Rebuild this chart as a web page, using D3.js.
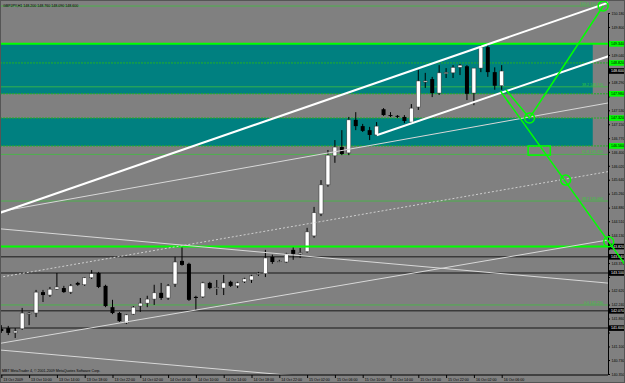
<!DOCTYPE html>
<html lang="en">
<head>
<meta charset="utf-8">
<title>GBPJPY,H1</title>
<style>
    body { margin: 0; background: #808080; }
    svg { display: block; font-family: "Liberation Sans", Arial, sans-serif; }
</style>
</head>
<body>
<svg id="chart" width="625" height="383"></svg>
<script src="https://d3js.org/d3.v7.min.js"></script>
<script>
// GBPJPY H1 bars, 13 Oct 2009 06:00 .. 16 Oct 2009 06:00
var opens  = [141.58,141.60,141.47,141.58,141.99,142.01,142.58,142.50,142.66,142.69,142.58,142.83,142.78,142.97,143.10,142.75,142.17,142.01,141.74,141.98,
              142.20,142.28,142.39,142.56,142.42,142.80,143.43,143.35,142.45,142.45,142.83,142.69,142.69,142.86,142.75,142.86,142.91,143.08,143.08,143.54,
              143.40,143.40,143.73,143.62,143.68,144.11,144.71,145.50,146.29,146.53,146.37,147.27,147.10,146.99,146.86,147.56,147.40,147.38,147.35,147.21,
              147.62,148.30,148.38,148.00,148.55,148.55,148.70,148.73,148.00,148.68,149.25,148.57,148.20];
var highs  = [141.68,141.66,141.60,142.15,142.04,142.64,142.64,142.72,143.10,142.75,142.80,142.86,142.99,143.18,143.13,142.78,142.37,142.04,141.98,142.20,
              142.42,142.48,142.78,142.83,142.80,143.54,143.81,143.38,142.48,142.86,142.86,142.91,143.05,142.89,142.86,142.97,143.05,143.13,143.73,143.60,
              143.46,143.65,143.81,143.78,144.33,144.90,145.63,146.45,146.72,146.99,147.35,147.48,147.16,147.08,147.21,147.59,147.48,147.40,147.40,147.70,
              148.63,148.55,148.44,148.76,148.68,148.76,148.79,148.76,148.68,149.31,149.31,148.70,148.76];
var lows   = [141.47,141.41,141.33,141.55,141.68,141.90,142.31,142.45,142.64,142.56,142.53,142.75,142.75,142.94,142.69,142.17,141.98,141.77,141.71,141.96,
              142.04,142.17,142.23,142.37,142.37,142.72,143.30,142.34,142.09,142.42,142.66,142.50,142.50,142.72,142.69,142.83,142.83,143.02,142.99,143.35,
              143.38,143.38,143.46,143.51,143.65,144.06,144.65,145.45,146.10,146.31,146.31,146.99,146.94,146.72,146.83,147.38,147.35,147.32,147.18,147.16,
              147.54,148.14,147.89,147.95,148.41,148.41,148.49,147.81,147.67,148.57,148.44,148.09,148.09];
var closes = [141.52,141.47,141.52,142.01,142.01,142.58,142.50,142.66,142.72,142.58,142.75,142.78,142.97,143.08,142.72,142.20,142.01,141.79,141.96,142.17,
              142.28,142.39,142.56,142.42,142.75,143.40,143.32,142.37,142.42,142.83,142.69,142.70,142.83,142.75,142.83,142.94,143.02,143.09,143.51,143.40,
              143.41,143.62,143.62,143.65,144.22,144.74,145.50,146.31,146.53,146.34,147.27,147.10,146.97,146.86,147.10,147.40,147.39,147.37,147.24,147.59,
              148.33,148.33,148.00,148.55,148.56,148.70,148.76,147.98,148.68,149.25,148.57,148.20,148.60];

var timeLabels = ["13 Oct 2009","13 Oct 10:00","13 Oct 14:00","13 Oct 18:00","13 Oct 22:00","14 Oct 02:00","14 Oct 06:00",
                  "14 Oct 10:00","14 Oct 14:00","14 Oct 18:00","14 Oct 22:00","15 Oct 02:00","15 Oct 06:00","15 Oct 10:00",
                  "15 Oct 14:00","15 Oct 18:00","15 Oct 22:00","16 Oct 02:00","16 Oct 06:00"];
var priceTicks = [140.350,140.730,141.100,141.480,141.860,142.240,142.620,142.990,143.370,143.750,144.130,144.510,144.880,
                  145.260,145.640,146.020,146.400,146.770,147.150,147.530,147.910,148.290,148.660,149.040,149.420,149.800,150.180];

// horizontal objects
var zonePrices  = [[149.34, 147.98], [147.32, 146.56]];   // teal rectangles
var zoneEnd     = 85.1;                                   // bar where rectangles stop
var boldLevels  = [149.34, 143.82];
var dotLevels   = [148.82, 147.98, 147.32, 146.56];
var darkLevels  = [143.54, 143.10, 142.07, 141.60];
var fiboLevels  = [150.37, 148.17, 146.33, 145.06, 142.23];
var fiboNames   = ["100.0", "38.2", "61.8", "38.2", "0.0"];
var bid = 148.60;

// trend lines [bar, price] pairs
var thickLines = [[[0, 144.75], [85, 150.31]]];
var channelRay = [[54, 146.85], [87, 148.98]];
var thinLines  = [[[0, 144.78], [87, 147.72]], [[0, 141.19], [87, 143.99]], [[0, 144.30], [87, 142.83]], [[0, 141.00], [40, 140.34]]];
var dottedLine = [[0, 142.99], [87, 145.85]];

// green projection
var greenPath1 = [[72.6, 148.09], [76, 147.32], [86.6, 150.37]];
var greenRay   = [[71.8, 148.06], [87.4, 143.95]];
var greenDots  = [[76, 147.32], [81.2, 145.63], [87.4, 143.95], [86.6, 150.37]];
var greenBox   = [[75.8, 146.56], [79, 146.31]];

var W = 625, H = 383, plotR = 608, plotB = 375, fs = 3.6;
var svg = d3.select("#chart");

var x = d3.scaleLinear().domain([0, 1]).range([1.3, 1.3 + 6.95]);
var y = d3.scaleLinear().domain([140.35, 150.18]).range([374, 13]);

svg.append("rect").attr("width", W).attr("height", H).attr("fill", "#808080");
svg.append("clipPath").attr("id", "plot").append("rect")
    .attr("x", 0).attr("y", 0).attr("width", plotR).attr("height", plotB);

var g = svg.append("g").attr("clip-path", "url(#plot)");

// teal zones
g.selectAll(".zone").data(zonePrices).enter().append("rect")
    .attr("x", 0).attr("width", x(zoneEnd))
    .attr("y", function (d) { return y(d[0]); })
    .attr("height", function (d) { return y(d[1]) - y(d[0]); })
    .attr("fill", "#008080");

function hline(levels, color, width, dash) {
    g.selectAll(null).data(levels).enter().append("line")
        .attr("x1", 0).attr("x2", plotR)
        .attr("y1", function (d) { return y(d); }).attr("y2", function (d) { return y(d); })
        .attr("stroke", color).attr("stroke-width", width)
        .attr("stroke-dasharray", dash);
}
hline(darkLevels, "#3a3a3a", 1.5, null);
hline(dotLevels, "#22b022", 1, "2,1");
hline(fiboLevels, "#3fbf3f", 0.8, null);

g.selectAll(".fibname").data(fiboLevels).enter().append("text")
    .attr("x", 603).attr("y", function (d) { return y(d) - 1; })
    .attr("text-anchor", "end").attr("font-size", fs).attr("fill", "#33cc33")
    .text(function (d, i) { return fiboNames[i] + " " + d.toFixed(3); });

// line helpers: extend a two point line across the plot
function extend(p, fromBar, toBar) {
    var s = (p[1][1] - p[0][1]) / (p[1][0] - p[0][0]);
    return [[fromBar, p[0][1] + s * (fromBar - p[0][0])], [toBar, p[0][1] + s * (toBar - p[0][0])]];
}
var lineGen = d3.line().x(function (d) { return x(d[0]); }).y(function (d) { return y(d[1]); });

// candles
var bars = d3.range(opens.length);
g.selectAll(".wick").data(bars).enter().append("line")
    .attr("x1", function (i) { return x(i); }).attr("x2", function (i) { return x(i); })
    .attr("y1", function (i) { return y(highs[i]); }).attr("y2", function (i) { return y(lows[i]); })
    .attr("stroke", "#000").attr("stroke-width", 1);
g.selectAll(".body").data(bars).enter().append("rect")
    .attr("x", function (i) { return x(i) - 2; }).attr("width", 4)
    .attr("y", function (i) { return y(Math.max(opens[i], closes[i])); })
    .attr("height", function (i) { return Math.max(1, Math.abs(y(opens[i]) - y(closes[i]))); })
    .attr("fill", function (i) { return closes[i] >= opens[i] ? "#fff" : "#000"; })
    .attr("stroke", function (i) { return closes[i] >= opens[i] ? "#333" : "none"; })
    .attr("stroke-width", 0.5);

hline(boldLevels, "#00ff00", 2, null);

// trend lines
thinLines.forEach(function (p) {
    g.append("path").attr("d", lineGen(extend(p, -2, 90)))
        .attr("fill", "none").attr("stroke", "#d8d8d8").attr("stroke-width", 1);
});
g.append("path").attr("d", lineGen(extend(dottedLine, -2, 90)))
    .attr("fill", "none").attr("stroke", "#cfcfcf").attr("stroke-width", 1).attr("stroke-dasharray", "2,2");
thickLines.forEach(function (p) {
    g.append("path").attr("d", lineGen(extend(p, -2, 90)))
        .attr("fill", "none").attr("stroke", "#fff").attr("stroke-width", 2);
});
g.append("path").attr("d", lineGen(extend(channelRay, channelRay[0][0], 90)))
    .attr("fill", "none").attr("stroke", "#fff").attr("stroke-width", 2);

// price tags that sit on the axis
var tagPrices = boldLevels.concat(dotLevels, darkLevels, [bid]);

// axes
var yAxis = d3.axisRight(y).tickValues(priceTicks).tickSize(2).tickFormat(d3.format(".3f"));
var ya = svg.append("g").attr("transform", "translate(" + plotR + ",0)").call(yAxis);
ya.select(".domain").attr("stroke", "#000");
ya.selectAll("line").attr("stroke", "#000");
ya.selectAll("text").attr("font-size", fs).attr("fill", "#000").attr("x", 3.5).attr("dy", "0.35em")
    .style("display", function (d) {
        // the tag box covers a tick label that lies right under it
        return tagPrices.some(function (p) { return Math.abs(y(p) - y(d)) < 4.8; }) ? "none" : null;
    });

var xAxis = d3.axisBottom(x).tickValues(d3.range(0, 73, 4)).tickSize(3)
    .tickFormat(function (d) { return timeLabels[d / 4]; });
var xa = svg.append("g").attr("transform", "translate(0," + plotB + ")").call(xAxis);
xa.select(".domain").attr("d", "M0,0H" + plotR).attr("stroke", "#000");
xa.selectAll("line").attr("stroke", "#000");
xa.selectAll("text").attr("font-size", fs).attr("fill", "#000")
    .attr("text-anchor", "start").attr("dx", 1.5).attr("y", 3.5);

function tag(price, bg, fg) {
    var t = svg.append("g").attr("transform", "translate(" + (plotR + 1) + "," + y(price) + ")");
    t.append("rect").attr("x", 0).attr("y", -2.8).attr("width", 15).attr("height", 5.6).attr("fill", bg);
    t.append("text").attr("x", 2).attr("y", 1.3).attr("font-size", fs).attr("fill", fg).text(price.toFixed(3));
}
boldLevels.slice(0, 1).concat(dotLevels).forEach(function (p) { tag(p, "#00ff00", "#000"); });
[boldLevels[1]].concat(darkLevels).forEach(function (p) { tag(p, "#000", "#fff"); });
tag(bid, "#000", "#fff");

// green projection, drawn over everything
var gp = svg.append("g").attr("fill", "none").attr("stroke", "#00ff00").attr("stroke-width", 1.5);
gp.append("path").attr("d", lineGen(greenPath1));
gp.append("path").attr("d", lineGen(extend(greenRay, greenRay[0][0], 91)));
gp.selectAll("circle").data(greenDots).enter().append("circle")
    .attr("cx", function (d) { return x(d[0]); }).attr("cy", function (d) { return y(d[1]); }).attr("r", 5);
gp.append("rect")
    .attr("x", x(greenBox[0][0])).attr("y", y(greenBox[0][1]))
    .attr("width", x(greenBox[1][0]) - x(greenBox[0][0])).attr("height", y(greenBox[1][1]) - y(greenBox[0][1]));

// captions
svg.append("text").attr("x", 3).attr("y", 7).attr("font-size", fs).attr("fill", "#000")
    .text("GBPJPY,H1  " + [opens[72], highs[72], lows[72], closes[72]].map(function (v) { return v.toFixed(3); }).join(" "));
svg.append("text").attr("x", 2).attr("y", 372).attr("font-size", fs).attr("fill", "#000")
    .text("MBT MetaTrader 4, \u00a9 2001-2009 MetaQuotes Software Corp.");
svg.append("rect").attr("x", 0.5).attr("y", 0.5).attr("width", W - 1).attr("height", H - 1)
    .attr("fill", "none").attr("stroke", "#555");
</script>
</body>
</html>
